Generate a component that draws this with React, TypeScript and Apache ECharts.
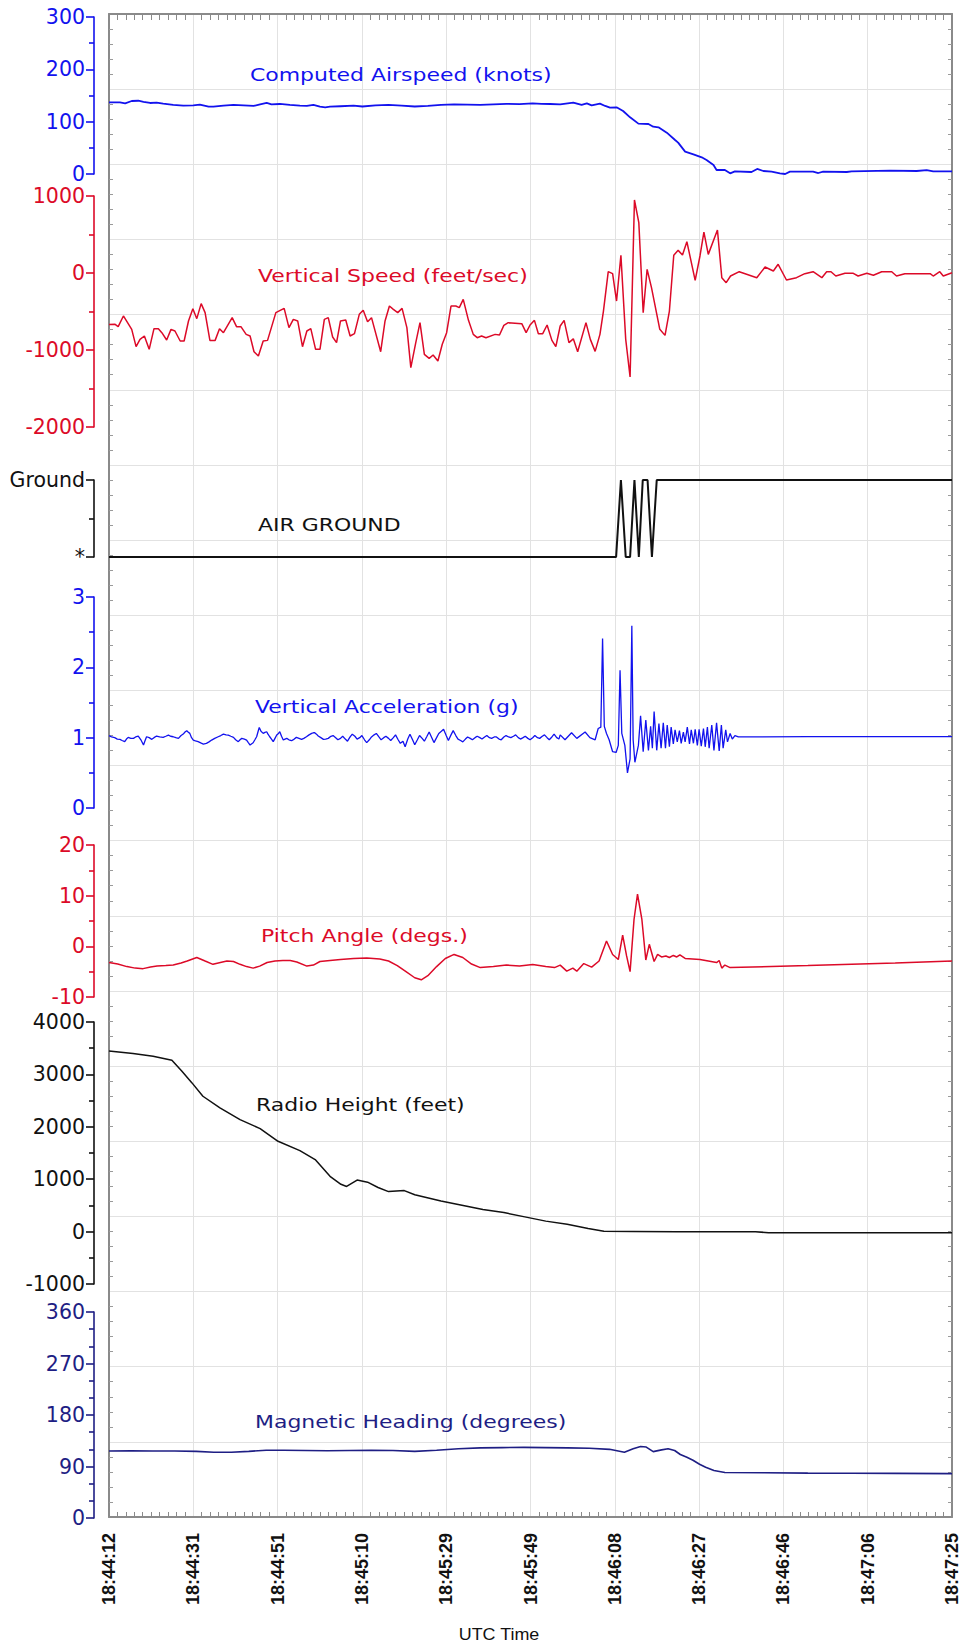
import React, { useEffect, useRef } from "react";
import * as echarts from "echarts";

// ---------- time axis ----------
const TIME_START_SEC = 18 * 3600 + 44 * 60 + 12; // 18:44:12
const TIME_SPAN = 193; // seconds to 18:47:25
const TIME_STEP = 19.3;

// ---------- data: [seconds since 18:44:12, value] ----------
const airspeed: [number, number][] = [
  [0, 137], [2.5, 137], [3.7, 135], [5.2, 139.5], [6.7, 140], [7.9, 138], [9.4, 135.7], [10.9, 136.3],
  [12.4, 134.4], [14.7, 131.9], [17.0, 130.6], [19.3, 131.2], [20.8, 132.5], [22.8, 128.7], [23.9, 128.7],
  [26.2, 130.6], [28.5, 131.9], [30.8, 131.2], [33.1, 130], [34.6, 133], [36.1, 135.7], [37.2, 133],
  [39.1, 133.8], [41.4, 131.9], [43.7, 130.6], [45.3, 130], [46.8, 131.9], [48.3, 128.7], [49.5, 127.4],
  [50.6, 128.7], [53, 129.5], [56, 130.5], [58, 129], [61, 131], [64, 132], [67, 130.5], [70, 129],
  [73, 130], [76, 132], [79, 133], [82, 132.5], [85, 132], [88, 133], [91, 134], [94, 133.5], [97, 135],
  [99, 134], [101.0, 133.8], [103.3, 133.1], [106.3, 136.3], [108.2, 131.9], [109.4, 135.1], [110.5, 131.2],
  [112.4, 134.4], [113.6, 130], [114.7, 126.8], [116.2, 127.4], [117.7, 120.4], [119.3, 108.3], [121.2, 96.2],
  [123.5, 95.5], [124.6, 90.4], [125.8, 89.2], [127.7, 79.0], [129.6, 65], [130.3, 59.9], [131.9, 42.7],
  [133.8, 37.6], [135.7, 31.9], [136.8, 26.8], [138.4, 17.2], [139.1, 7.6], [141.0, 7.6], [142.2, 1.3],
  [143.3, 5.1], [147.1, 3.8], [148.4, 9.6], [149.8, 5.7], [151.7, 4.5], [153.6, 1.3], [154.8, 0],
  [155.9, 4.5], [161.2, 4.5], [162.4, 1.9], [163.5, 4.5], [168.9, 3.8], [170.0, 5.1], [178.8, 6.4],
  [184.9, 5.7], [187.2, 7.6], [188.7, 5.1], [193, 5.1],
];

const verticalSpeed: [number, number][] = [
  [0, -670], [1.4, -667], [2.1, -697], [3.3, -558], [5.2, -732], [6.2, -957], [7.1, -862], [8.1, -818],
  [9.2, -991], [10.3, -723], [11.3, -723], [12.1, -775], [13.2, -870], [14.2, -732], [15.1, -753],
  [16.3, -883], [17.2, -883], [18.2, -623], [19.2, -463], [20.1, -593], [21.1, -398], [22.0, -515],
  [23.1, -875], [24.3, -875], [25.3, -723], [26.2, -775], [28.2, -580], [29.2, -697], [30.2, -697],
  [31.4, -797], [32.3, -818], [33.2, -1022], [34.2, -1078], [35.3, -883], [36.3, -875], [38.2, -515],
  [40.1, -459], [41.2, -710], [42.2, -602], [43.2, -623], [44.3, -957], [45.3, -753], [46.2, -723],
  [47.3, -991], [48.3, -991], [49.3, -602], [50.2, -580], [51.2, -831], [52.1, -905], [53.0, -623],
  [54.2, -610], [55.2, -818], [56.2, -788], [57.3, -537], [58.2, -485], [59.2, -632], [60.1, -580],
  [62.2, -1022], [63.2, -623], [64.2, -429], [65.1, -472], [66.1, -515], [67.1, -459], [68.2, -710],
  [69.1, -1229], [70.2, -913], [71.2, -645], [72.2, -1056], [73.3, -1108], [74.2, -1065], [75.3, -1143],
  [76.3, -926], [77.3, -775], [78.3, -429], [79.4, -429], [80.2, -450], [81.1, -342], [82.3, -615],
  [83.4, -797], [84.3, -840], [85.3, -818], [86.3, -840], [88.4, -797], [89.4, -805], [90.4, -680],
  [91.4, -645], [94.5, -658], [95.5, -775], [96.4, -675], [97.4, -615], [98.3, -788], [99.3, -788],
  [100.3, -675], [101.4, -875], [102.3, -957], [103.3, -688], [104.2, -615], [105.3, -905], [106.3, -855],
  [107.3, -1022], [109.2, -645], [110.2, -862], [111.3, -1018], [112.4, -797], [113.2, -494], [114.3, 17],
  [115.3, -9], [116.2, -364], [117.2, 230], [118.3, -862], [119.3, -1351], [120.3, 948], [121.3, 654],
  [122.3, -515], [123.2, 48], [124.2, -190], [126.1, -732], [127.3, -810], [128.3, -494], [129.3, 230],
  [130.3, 294], [131.3, 234], [132.3, 407], [134.2, -95], [135.3, 221], [136.2, 532], [137.2, 242],
  [139.3, 558], [140.3, -61], [141.3, -126], [142.3, -39], [144.3, 17], [148.3, -61], [150.2, 78],
  [152.1, 26], [153.2, 113], [155.1, -91], [157.4, -61], [159.3, -9], [161.2, 17], [163.2, -61],
  [164.3, 17], [165.3, 17], [166.4, -39], [168.5, -4], [170.4, -4], [171.5, -39], [173.5, -4],
  [175.0, -30], [176.9, 17], [179.2, 17], [180.3, -39], [182.2, -9], [188.0, -9], [188.7, -39],
  [190.2, 17], [191.0, -39], [193, 4],
];

// 0 = "*" (air), 1 = "Ground"
const airGround: [number, number][] = [
  [0, 0], [116.1, 0], [117.2, 1], [118.3, 0], [119.3, 0], [120.3, 1], [121.3, 0], [122.2, 1],
  [123.3, 1], [124.3, 0], [125.4, 1], [193, 1],
];

const verticalAccel: [number, number][] = [
  [0, 1.03], [0.6, 1.01], [1.3, 1.0], [1.9, 0.98], [2.5, 0.976], [3.0, 0.96], [3.6, 0.943], [4.0, 0.98],
  [4.4, 1.004], [5.0, 0.99], [5.6, 0.99], [6.1, 1.01], [6.7, 1.023], [7.3, 0.97], [7.9, 0.895], [8.2, 0.95],
  [8.6, 1.013], [9.2, 1.0], [9.8, 0.976], [10.3, 1.0], [10.9, 1.023], [11.6, 1.01], [12.4, 1.004],
  [13.0, 1.02], [13.6, 1.037], [14.1, 1.02], [14.7, 1.013], [15.3, 1.0], [15.9, 0.99], [16.5, 1.03],
  [17.0, 1.051], [17.4, 1.08], [17.8, 1.098], [18.1, 1.08], [18.5, 1.061], [18.9, 1.0], [19.3, 0.966],
  [19.8, 0.955], [20.4, 0.943], [21.0, 0.925], [21.6, 0.909], [22.3, 0.919], [22.9, 0.94], [23.5, 0.966],
  [24.2, 0.99], [25.0, 1.013], [25.6, 1.03], [26.2, 1.051], [26.8, 1.04], [27.3, 1.037], [27.9, 1.02],
  [28.5, 1.004], [29.0, 0.97], [29.6, 0.943], [30.0, 0.97], [30.4, 0.99], [31.0, 0.98], [31.5, 0.966],
  [31.9, 0.93], [32.3, 0.895], [32.6, 0.91], [33.0, 0.928], [33.4, 0.97], [33.8, 1.013], [34.1, 1.08],
  [34.4, 1.146], [34.8, 1.09], [35.3, 1.061], [35.7, 1.075], [36.1, 1.084], [36.4, 1.05], [36.8, 1.013],
  [37.2, 0.98], [37.6, 0.943], [38.0, 0.99], [38.4, 1.037], [38.8, 1.06], [39.1, 1.084], [39.5, 1.02],
  [39.9, 0.966], [40.3, 0.98], [40.7, 0.99], [41.2, 0.97], [41.8, 0.957], [42.4, 0.98], [42.9, 1.004],
  [43.5, 0.99], [44.1, 0.976], [44.6, 0.99], [45.2, 1.013], [45.8, 1.04], [46.4, 1.061], [46.8, 1.07],
  [47.1, 1.07], [47.5, 1.05], [47.9, 1.023], [48.5, 1.0], [49.1, 0.976], [49.6, 0.98], [50.2, 0.99],
  [50.8, 1.02], [51.3, 1.03], [51.9, 1.0], [52.4, 0.97], [53.0, 0.99], [53.5, 1.02], [54.1, 0.98],
  [54.6, 0.95], [55.2, 1.01], [55.7, 1.05], [56.3, 1.02], [56.8, 0.98], [57.4, 1.0], [57.9, 1.03],
  [58.5, 0.97], [59.0, 0.93], [59.6, 0.97], [60.1, 1.01], [60.7, 1.04], [61.2, 1.06], [61.8, 1.01],
  [62.3, 0.97], [62.9, 1.0], [63.4, 1.02], [64.0, 0.99], [64.5, 0.96], [65.1, 1.0], [65.6, 1.04],
  [66.2, 0.97], [66.7, 0.92], [67.3, 0.95], [67.8, 0.87], [68.4, 0.98], [68.9, 1.05], [69.5, 0.97],
  [70.0, 0.9], [70.6, 0.97], [71.1, 1.03], [71.7, 0.99], [72.2, 0.95], [72.8, 1.02], [73.3, 1.08],
  [73.9, 1.0], [74.4, 0.93], [75.0, 1.0], [75.5, 1.06], [76.1, 1.09], [76.6, 1.12], [77.2, 1.03],
  [77.7, 0.96], [78.3, 1.04], [78.8, 1.1], [79.4, 1.03], [79.9, 0.98], [80.5, 0.96], [81.0, 0.94],
  [81.6, 0.98], [82.1, 1.01], [82.7, 0.99], [83.2, 0.97], [83.8, 1.0], [84.3, 1.02], [84.9, 1.0],
  [85.4, 0.98], [86.0, 1.01], [86.5, 1.03], [87.1, 1.0], [87.6, 0.99], [88.2, 1.01], [88.7, 1.01],
  [89.3, 0.98], [89.8, 0.97], [90.4, 1.01], [90.9, 1.03], [91.5, 1.01], [92.0, 1.0], [92.6, 1.02],
  [93.1, 1.04], [93.7, 1.0], [94.2, 0.98], [94.8, 1.0], [95.3, 1.02], [95.9, 0.99], [96.4, 0.97],
  [97.0, 1.0], [97.5, 1.03], [98.1, 1.0], [98.6, 0.99], [99.2, 1.02], [99.7, 1.04], [100.3, 1.0],
  [100.8, 0.97], [101.4, 1.01], [101.9, 1.05], [102.5, 1.0], [103.0, 0.98],
  [103.3, 1.04], [104.4, 0.97], [105.9, 1.07], [107.1, 0.99], [109.0, 1.08], [110.1, 1.0], [111.3, 0.97],
  [112.0, 1.13], [112.6, 1.15], [113.0, 2.41], [113.4, 1.16], [113.9, 1.06], [114.5, 0.97], [115.3, 0.8],
  [116.1, 0.79], [116.6, 0.89], [117.0, 1.96], [117.4, 1.06], [118.1, 0.89], [118.7, 0.5], [119.3, 0.7],
  [119.7, 2.59], [120.0, 0.97], [120.4, 0.65], [121.2, 0.89], [121.7, 1.31], [122.3, 0.8], [122.9, 1.25],
  [123.5, 0.82], [124.0, 1.16], [124.4, 0.85], [124.8, 1.37], [125.4, 0.82], [125.9, 1.2], [126.4, 0.85],
  [126.9, 1.21], [127.4, 0.85], [127.8, 1.18], [128.3, 0.87], [128.7, 1.15], [129.2, 0.91], [129.6, 1.11],
  [130.1, 0.94], [130.6, 1.1], [131.0, 0.92], [131.5, 1.08], [131.9, 0.94], [132.4, 1.15], [132.9, 0.91],
  [133.3, 1.11], [133.8, 0.92], [134.2, 1.12], [134.7, 0.89], [135.1, 1.12], [135.6, 0.88], [136.1, 1.13],
  [136.5, 0.87], [137.0, 1.15], [137.4, 0.85], [138.0, 1.18], [138.5, 0.82], [139.1, 1.21], [139.7, 0.81],
  [140.2, 1.18], [140.6, 0.85], [141.2, 1.11], [141.6, 0.94], [142.2, 1.06], [142.7, 0.98], [143.3, 1.03],
  [144.1, 1.01], [160, 1.015], [193, 1.015],
];

const pitch: [number, number][] = [
  [0, -3.2], [2, -3.5], [4.1, -4.0], [6, -4.3], [7.8, -4.4], [9.5, -4.1], [11, -3.9], [13, -3.8],
  [14.7, -3.7], [16.5, -3.3], [17.9, -2.9], [20.1, -2.2], [22, -2.9], [23.8, -3.55], [25.5, -3.2],
  [27, -2.9], [28.5, -3.0], [30, -3.55], [31.5, -4.0], [33, -4.3], [34.5, -3.9], [36.2, -3.2], [38, -2.9],
  [39.8, -2.8], [41.5, -2.8], [43, -3.1], [45.3, -3.9], [46.8, -3.7], [48.3, -3.0], [50.6, -2.8],
  [53, -2.6], [56, -2.4], [59, -2.3], [62, -2.5], [64, -2.9], [66, -3.8], [68, -5.0], [70, -6.2],
  [71.5, -6.6], [73, -5.8], [75, -4.0], [77, -2.4], [79, -1.6], [81, -2.2], [83, -3.5], [85, -4.2],
  [88, -4.0], [91, -3.7], [94, -3.9], [97, -3.6], [100, -4.0], [102, -4.2], [103.3, -3.7], [104.8, -4.9],
  [106.2, -4.3], [107.1, -4.9], [108.7, -3.4], [110.5, -4.1], [112.2, -2.9], [113.9, 1.05], [115.3, -1.6],
  [116.6, -2.6], [117.6, 2.2], [118.5, -1.9], [119.3, -5.0], [120.2, 5.3], [121.0, 10.3], [122.0, 5.3],
  [122.9, -2.7], [123.7, 0.4], [124.8, -3.0], [125.6, -1.6], [126.5, -2.1], [127.5, -1.9], [128.3, -2.2],
  [129.2, -1.8], [130, -2.1], [130.7, -1.7], [131.9, -2.4], [135.3, -2.6], [139.1, -3.2], [139.7, -2.8],
  [140.3, -4.3], [141.0, -3.7], [142.2, -4.2], [160, -3.8], [180, -3.3], [193, -2.9],
];

const radioHeight: [number, number][] = [
  [0, 3445], [5.5, 3397], [10.1, 3346], [14.4, 3270], [16.7, 3060], [19.0, 2838], [21.5, 2583],
  [25.4, 2360], [30.0, 2137], [34.6, 1966], [38.7, 1723], [43.7, 1546], [47.2, 1374], [50.6, 1055],
  [53.1, 903], [54.4, 862], [56.8, 983], [59.2, 943], [61.6, 842], [64.0, 763], [67.6, 782], [70, 702],
  [76, 582], [80.8, 502], [85.6, 420], [90.4, 363], [95.2, 281], [100, 200], [104.9, 141], [109.7, 61],
  [113.3, 5], [120, 0], [130, -5], [140, -5], [148, -5], [151, -20], [193, -20],
];

const heading: [number, number][] = [
  [0, 117], [5, 117.5], [10, 117.2], [15, 117], [20, 116.5], [24, 115], [28, 115], [32, 116.5],
  [36, 118.5], [40, 118.5], [45, 118], [50, 117.6], [55, 118], [60, 118.5], [65, 118], [70, 116.5],
  [75, 118.5], [80, 121], [85, 122.5], [90, 123], [95, 123.5], [100, 123], [105, 122.5], [110, 122],
  [114.6, 120], [118, 115], [120, 121], [121.7, 125], [123, 124], [124.6, 116], [126.5, 119], [128, 121],
  [129.5, 118], [130.8, 111], [132.3, 106], [133.7, 101], [135.2, 94], [136.6, 88.7], [138.5, 83],
  [141, 79.5], [150, 79], [160, 78.5], [170, 78.3], [180, 78], [193, 77.5],
];

// ---------- styles ----------
const BLUE = "#1212ee";
const RED = "#dc0a28";
const BLACK = "#111111";
const NAVY = "#1e1e84";
const FRAME = "#8a8a8a";
const GRIDLINE = "#e2e2e2";
const NONE = "rgba(0,0,0,0)";

const PLOT = { left: 109, top: 14, width: 843, height: 1503 };

const panels = [
  { title: "Computed Airspeed (knots)", color: BLUE, data: airspeed, top: 17, height: 157, min: 0, max: 300, interval: 100, minor: 2, width: 1.8, tx: 250, ty: 75 },
  { title: "Vertical Speed (feet/sec)", color: RED, data: verticalSpeed, top: 196, height: 231, min: -2000, max: 1000, interval: 1000, minor: 2, width: 1.5, tx: 258, ty: 276 },
  { title: "AIR GROUND", color: BLACK, data: airGround, top: 480, height: 77, min: 0, max: 1, interval: 1, minor: 2, width: 2, tx: 258, ty: 525, labels: ["*", "Ground"] },
  { title: "Vertical Acceleration (g)", color: BLUE, data: verticalAccel, top: 597, height: 211, min: 0, max: 3, interval: 1, minor: 2, width: 1.3, tx: 255, ty: 707 },
  { title: "Pitch Angle (degs.)", color: RED, data: pitch, top: 845, height: 152, min: -10, max: 20, interval: 10, minor: 2, width: 1.5, tx: 261, ty: 936 },
  { title: "Radio Height (feet)", color: BLACK, data: radioHeight, top: 1022, height: 262, min: -1000, max: 4000, interval: 1000, minor: 2, width: 1.5, tx: 256, ty: 1105 },
  { title: "Magnetic Heading (degrees)", color: NAVY, data: heading, top: 1312, height: 206, min: 0, max: 360, interval: 90, minor: 3, width: 1.6, tx: 255, ty: 1422 },
];

function fmtTime(v: number): string {
  const total = TIME_START_SEC + Math.round(v);
  const h = Math.floor(total / 3600);
  const m = Math.floor((total % 3600) / 60);
  const s = total % 60;
  const p = (n: number) => (n < 10 ? "0" + n : "" + n);
  return `${p(h)}:${p(m)}:${p(s)}`;
}

export default function App() {
  const ref = useRef<HTMLDivElement>(null);
  useEffect(() => {
    document.body.style.margin = "0";
    if (!ref.current) return;
    const chart = echarts.init(ref.current, undefined, { renderer: "svg" });

    const grids: any[] = [
      { ...PLOT },
      ...panels.map((p) => ({ left: PLOT.left, width: PLOT.width, top: p.top, height: p.height })),
    ];

    const frameLine = { show: true, onZero: false, lineStyle: { color: FRAME, width: 2 } };
    const hiddenMajorTick = { show: true, inside: true, length: 4, lineStyle: { color: NONE, width: 0 } };

    const xAxes: any[] = [
      {
        gridIndex: 0, type: "value", min: 0, max: TIME_SPAN, interval: TIME_STEP, position: "bottom",
        axisLine: frameLine,
        axisTick: hiddenMajorTick,
        minorTick: { show: true, splitNumber: 10, length: 5, lineStyle: { color: FRAME, width: 1 } },
        splitLine: { show: true, lineStyle: { color: GRIDLINE, width: 1 } },
        axisLabel: {
          show: true, rotate: 90, margin: 16, color: BLACK, fontFamily: "Liberation Sans",
          fontWeight: "bold", fontSize: 18, showMinLabel: true, showMaxLabel: true,
          formatter: (v: number) => fmtTime(v),
        },
      },
      {
        gridIndex: 0, type: "value", min: 0, max: TIME_SPAN, interval: TIME_STEP, position: "top",
        axisLine: frameLine,
        axisTick: hiddenMajorTick,
        axisLabel: { show: false },
        minorTick: { show: true, splitNumber: 10, length: 6, lineStyle: { color: FRAME, width: 1 } },
        splitLine: { show: false },
      },
      ...panels.map((_, i) => ({ gridIndex: i + 1, type: "value", min: 0, max: TIME_SPAN, show: false })),
    ];

    const yAxes: any[] = [
      {
        gridIndex: 0, type: "value", min: 0, max: 20, interval: 1, position: "left",
        axisLine: frameLine,
        axisTick: hiddenMajorTick,
        axisLabel: { show: false },
        minorTick: { show: true, splitNumber: 5, length: 4, lineStyle: { color: "#9a9a9a", width: 1 } },
        splitLine: { show: true, lineStyle: { color: GRIDLINE, width: 1 } },
      },
      {
        gridIndex: 0, type: "value", min: 0, max: 20, interval: 1, position: "right",
        axisLine: frameLine,
        axisTick: hiddenMajorTick,
        axisLabel: { show: false },
        minorTick: { show: true, splitNumber: 5, length: 4, lineStyle: { color: "#9a9a9a", width: 1 } },
        splitLine: { show: false },
      },
      ...panels.map((p, i) => ({
        gridIndex: i + 1, type: "value", min: p.min, max: p.max, interval: p.interval,
        position: "left", offset: 15,
        axisLine: { show: true, onZero: false, lineStyle: { color: p.color, width: 1.6 } },
        axisTick: { show: true, length: 8, lineStyle: { color: p.color, width: 1.6 } },
        minorTick: { show: true, splitNumber: p.minor, length: 5, lineStyle: { color: p.color, width: 1.6 } },
        splitLine: { show: false },
        axisLabel: {
          show: true, color: p.color, fontFamily: "DejaVu Sans", fontSize: 20.5, margin: 9,
          formatter: (v: number) => {
            if (p.labels) return v === 1 ? p.labels[1] : v === 0 ? p.labels[0] : "";
            return String(v);
          },
        },
      })),
    ];

    const series: any[] = panels.map((p, i) => ({
      type: "line", xAxisIndex: i + 2, yAxisIndex: i + 2, data: p.data,
      showSymbol: false, symbol: "none", clip: true,
      lineStyle: { color: p.color, width: p.width },
      smooth: false,
    }));

    const graphic: any[] = [
      ...panels.map((p) => ({
        type: "text", x: p.tx, y: p.ty, scaleX: 1.22, z: 10,
        style: {
          text: p.title, fill: p.color, fontFamily: "DejaVu Sans", fontSize: 18,
          textAlign: "left", textVerticalAlign: "middle",
        },
      })),
      {
        type: "text", x: 499, y: 1635, scaleX: 1.12,
        style: {
          text: "UTC Time", fill: BLACK, fontFamily: "Liberation Sans", fontSize: 16,
          textAlign: "center", textVerticalAlign: "middle",
        },
      },
    ];

    chart.setOption({
      animation: false,
      backgroundColor: "#ffffff",
      grid: grids,
      xAxis: xAxes,
      yAxis: yAxes,
      series,
      graphic,
    });
    return () => chart.dispose();
  }, []);
  return <div ref={ref} style={{ width: 961, height: 1646 }} />;
}
